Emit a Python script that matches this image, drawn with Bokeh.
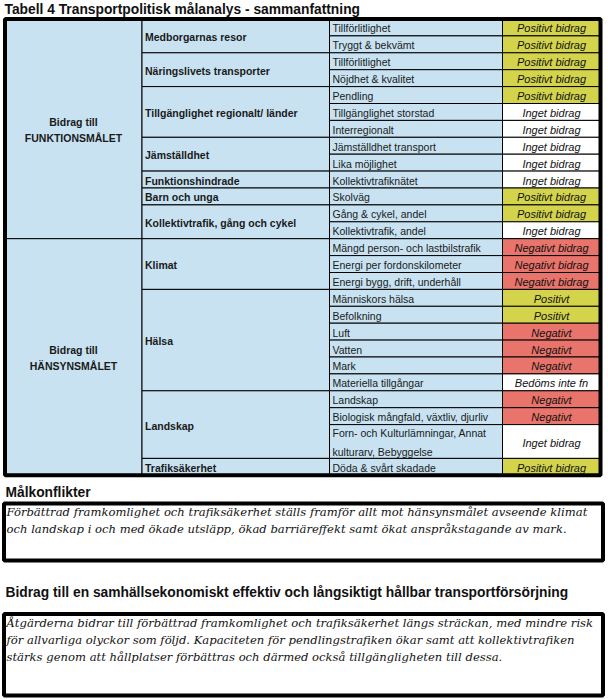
from bokeh.plotting import figure
from bokeh.models import Range1d
from bokeh.core.properties import value
from bokeh.embed import file_html
from bokeh.resources import INLINE

# ---------------- data ----------------
title_text = "Tabell 4 Transportpolitisk målanalys - sammanfattning"
section_labels = ["Bidrag till\nFUNKTIONSMÅLET", "Bidrag till\nHÄNSYNSMÅLET"]
section_group_counts = [7, 4]
group_labels = ["Medborgarnas resor", "Näringslivets transporter",
                "Tillgänglighet regionalt/ länder", "Jämställdhet",
                "Funktionshindrade", "Barn och unga",
                "Kollektivtrafik, gång och cykel", "Klimat", "Hälsa",
                "Landskap", "Trafiksäkerhet"]
group_sizes = [2, 2, 3, 2, 1, 1, 2, 3, 6, 3, 1]
indicators = ["Tillförlitlighet", "Tryggt & bekvämt", "Tillförlitlighet",
              "Nöjdhet & kvalitet", "Pendling", "Tillgänglighet storstad",
              "Interregionalt", "Jämställdhet transport", "Lika möjlighet",
              "Kollektivtrafiknätet", "Skolväg", "Gång & cykel, andel",
              "Kollektivtrafik, andel", "Mängd person- och lastbilstrafik",
              "Energi per fordonskilometer", "Energi bygg, drift, underhåll",
              "Människors hälsa", "Befolkning", "Luft", "Vatten", "Mark",
              "Materiella tillgångar", "Landskap",
              "Biologisk mångfald, växtliv, djurliv",
              "Forn- och Kulturlämningar, Annat\nkulturarv, Bebyggelse",
              "Döda & svårt skadade"]
indicator_units = [1] * 24 + [2, 1]
results = ["Positivt bidrag", "Positivt bidrag", "Positivt bidrag",
           "Positivt bidrag", "Positivt bidrag", "Inget bidrag",
           "Inget bidrag", "Inget bidrag", "Inget bidrag", "Inget bidrag",
           "Positivt bidrag", "Positivt bidrag", "Inget bidrag",
           "Negativt bidrag", "Negativt bidrag", "Negativt bidrag",
           "Positivt", "Positivt", "Negativt", "Negativt", "Negativt",
           "Bedöms inte fn", "Negativt", "Negativt", "Inget bidrag",
           "Positivt bidrag"]
result_kinds = ["Positivt", "Negativt", "Inget", "Bedöms"]
result_kind_colors = ["#D3D44C", "#E8746B", "#FFFFFF", "#FFFFFF"]

heading1 = "Målkonflikter"
box1_lines = ["Förbättrad  framkomlighet och trafiksäkerhet ställs framför allt mot hänsynsmålet avseende klimat",
              "och landskap i och med ökade utsläpp, ökad barriäreffekt samt ökat anspråkstagande av mark."]
heading2 = "Bidrag till en samhällsekonomiskt effektiv och långsiktigt hållbar transportförsörjning"
box2_lines = ["Åtgärderna bidrar till förbättrad framkomlighet och trafiksäkerhet längs sträckan, med mindre risk",
              "för allvarliga olyckor som följd. Kapaciteten för pendlingstrafiken ökar samt att kollektivtrafiken",
              "stärks genom att hållplatser förbättras och därmed också tillgängligheten till dessa."]

# ---------------- layout ----------------
BLUE = "#C8E2F1"
SANS = value("Liberation Sans")
SERIF = value("DejaVu Serif")
TOP = 18.5
UNIT = 16.9
COLS = [4.5, 141.5, 329.0, 502.0, 600.0]

p = figure(width=608, height=699, x_range=Range1d(0, 608), y_range=Range1d(699, 0),
           output_backend="svg", toolbar_location=None, min_border=0)
p.axis.visible = False
p.grid.visible = False
p.outline_line_color = None
p.background_fill_color = "white"
p.border_fill_color = "white"

# indicator rows
ind_top, ind_bot = [], []
cur = TOP
for u in indicator_units:
    ind_top.append(cur)
    cur += u * UNIT
    ind_bot.append(cur)

def kind_color(r):
    for k, c in zip(result_kinds, result_kind_colors):
        if r.startswith(k):
            return c
    return "#FFFFFF"

res_colors = [kind_color(r) for r in results]

# group rows
g_top, g_bot = [], []
i = 0
for s in group_sizes:
    g_top.append(ind_top[i])
    g_bot.append(ind_bot[i + s - 1])
    i += s
# section rows
s_top, s_bot = [], []
gi = 0
for c in section_group_counts:
    s_top.append(g_top[gi])
    s_bot.append(g_bot[gi + c - 1])
    gi += c

n = len(indicators)
p.quad(left=[COLS[0]] * 2, right=[COLS[1]] * 2, top=s_top, bottom=s_bot,
       fill_color=BLUE, line_color="black", line_width=1)
p.quad(left=[COLS[1]] * len(g_top), right=[COLS[2]] * len(g_top), top=g_top, bottom=g_bot,
       fill_color=BLUE, line_color="black", line_width=1)
p.quad(left=[COLS[2]] * n, right=[COLS[3]] * n, top=ind_top, bottom=ind_bot,
       fill_color=BLUE, line_color="black", line_width=1)
p.quad(left=[COLS[3]] * n, right=[COLS[4]] * n, top=ind_top, bottom=ind_bot,
       fill_color=res_colors, line_color="black", line_width=1)
# outer border
p.quad(left=[COLS[0]], right=[COLS[4]], top=[TOP], bottom=[ind_bot[-1]],
       fill_color=None, line_color="black", line_width=4)

# texts
p.text(x=[(COLS[0] + COLS[1]) / 2] * 2, y=[(a + b) / 2 + 1 for a, b in zip(s_top, s_bot)],
       text=section_labels, text_font=SANS, text_font_style="bold", text_font_size="10.5px",
       text_align="center", text_baseline="middle", text_color="#1a1a1a", text_line_height=1.3)
p.text(x=[COLS[1] + 3] * len(g_top), y=[(a + b) / 2 + 1 for a, b in zip(g_top, g_bot)],
       text=group_labels, text_font=SANS, text_font_style="bold", text_font_size="10.5px",
       text_align="left", text_baseline="middle", text_color="#1a1a1a")
p.text(x=[COLS[2] + 3] * n, y=[(a + b) / 2 + 1 for a, b in zip(ind_top, ind_bot)],
       text=indicators, text_font=SANS, text_font_size="10.5px",
       text_align="left", text_baseline="middle", text_color="#1a1a1a", text_line_height=1.6)
p.text(x=[(COLS[3] + COLS[4]) / 2] * n, y=[(a + b) / 2 + 1 for a, b in zip(ind_top, ind_bot)],
       text=results, text_font=SANS, text_font_style="italic", text_font_size="11px",
       text_align="center", text_baseline="middle", text_color="#111111")

# title and headings
p.text(x=[4], y=[9], text=[title_text],
       text_font=SANS, text_font_style="bold", text_font_size="13.8px",
       text_align="left", text_baseline="middle", text_color="#111111")
p.text(x=[5, 5], y=[492, 592], text=[heading1, heading2],
       text_font=SANS, text_font_style="bold", text_font_size="13.8px",
       text_align="left", text_baseline="middle", text_color="#111111")

# boxes
p.quad(left=[3.5, 3.5], right=[602.5, 602.5], top=[503, 613.5], bottom=[560, 695],
       fill_color=None, line_color="black", line_width=4)
p.text(x=[6] * len(box1_lines), y=[511 + 17 * k for k in range(len(box1_lines))],
       text=box1_lines, text_font=SERIF, text_font_style="italic", text_font_size="11.6px",
       text_align="left", text_baseline="middle", text_color="#111111")
p.text(x=[6] * len(box2_lines), y=[622 + 17 * k for k in range(len(box2_lines))],
       text=box2_lines, text_font=SERIF, text_font_style="italic", text_font_size="11.6px",
       text_align="left", text_baseline="middle", text_color="#111111")

open("out.html", "w").write(file_html(p, INLINE))
